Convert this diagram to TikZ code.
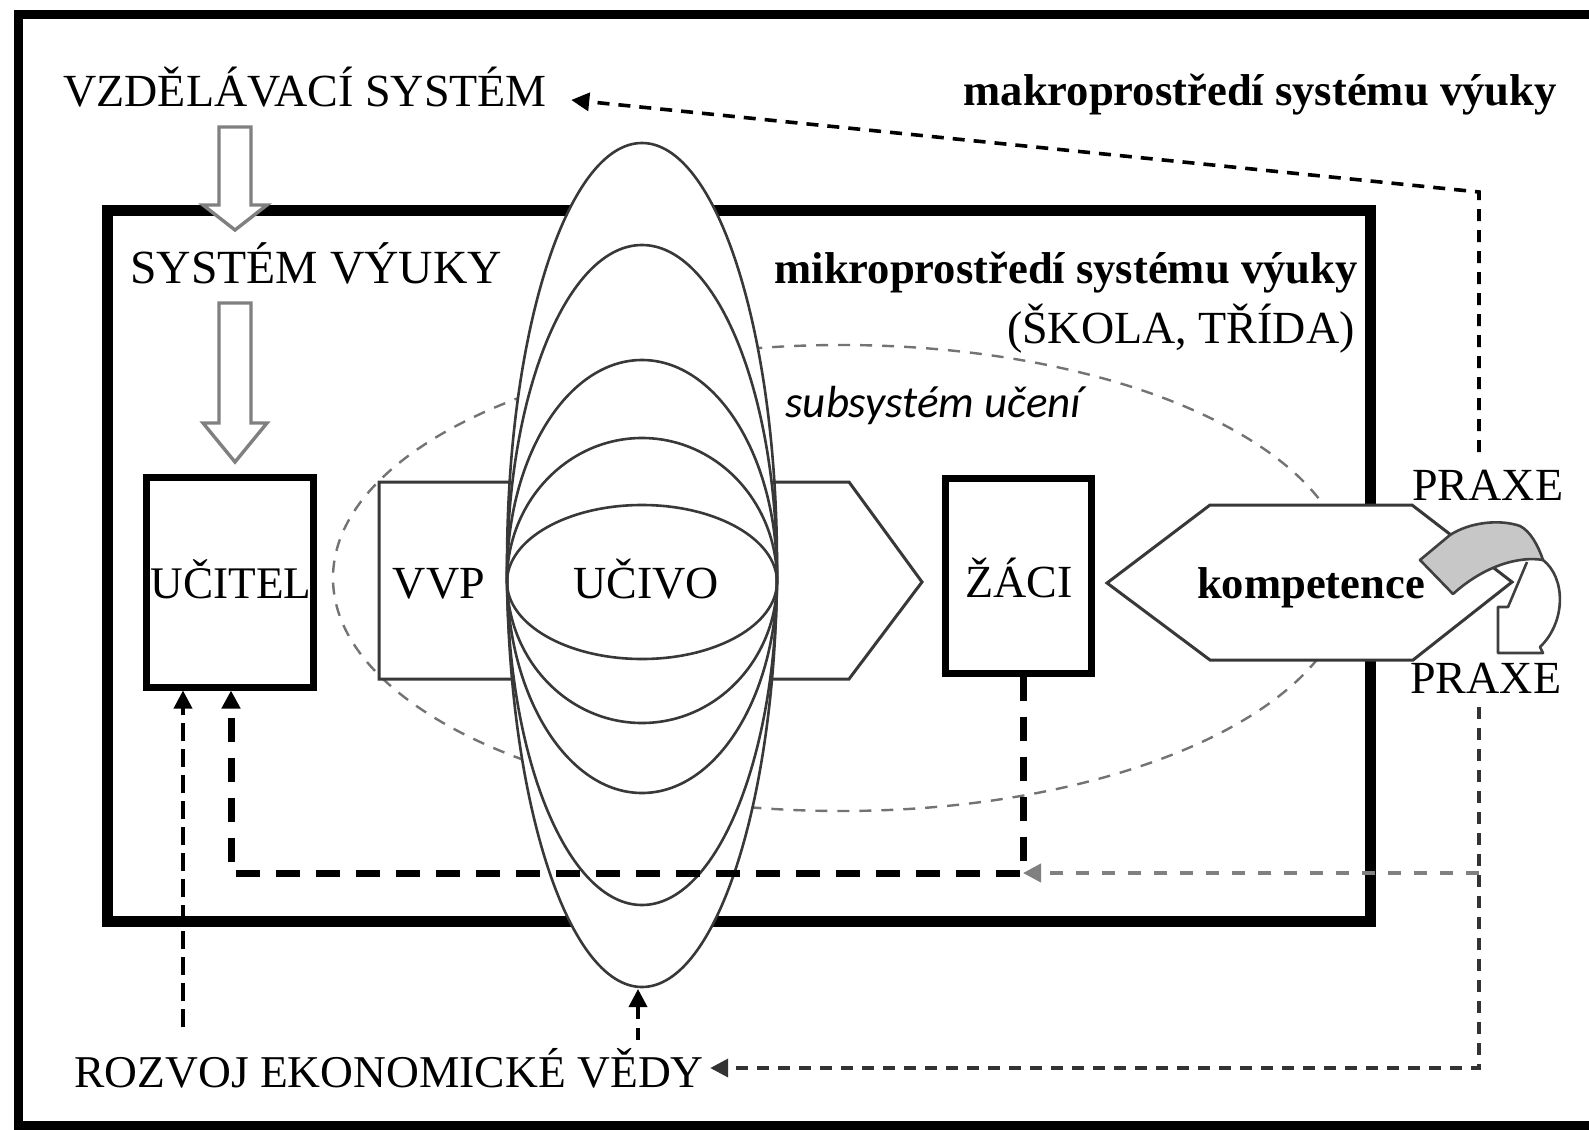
\documentclass[tikz,border=0pt]{standalone}
\usepackage{fontspec}
\setmainfont{Liberation Serif}
\newfontfamily\itfont{Carlito}
\usetikzlibrary{arrows.meta}
\begin{document}
\begin{tikzpicture}[x=0.5pt,y=-0.5pt,
  txt/.style={inner sep=0pt, font=\fontsize{23}{26}\selectfont},
  btxt/.style={inner sep=0pt, font=\fontsize{22.3}{26}\selectfont\bfseries},
  itxt/.style={inner sep=0pt, font=\fontsize{22.5}{26}\selectfont\itfont\itshape},
  outerframe/.style={line width=4.5pt},
  innerframe/.style={line width=5.5pt},
  box/.style={draw, line width=3.5pt, inner sep=0pt, fill=white},
  lens/.style={draw=black!78, line width=1.3pt},
  subsys/.style={draw=black!55, line width=1.2pt, dash pattern=on 6pt off 5pt},
  blockarrow/.style={draw=black!50, line width=1.7pt, fill=white, line join=miter},
  shape line/.style={draw=black!78, line width=1.5pt, fill=white, line join=miter},
  thindash/.style={line width=1.8pt, dash pattern=on 6pt off 4.5pt},
  longdash/.style={line width=1.8pt, dash pattern=on 9pt off 4pt},
  graydash/.style={draw=black!50, line width=2pt, dash pattern=on 6.5pt off 6.5pt},
  thickdash/.style={line width=3.5pt, dash pattern=on 12pt off 8pt},
  arr/.style={-{Triangle[length=9pt,width=9pt]}},
]
\useasboundingbox (0,0) rectangle (1589,1129);
\fill[white] (0,0) rectangle (1589,1129);

% frames
\draw[outerframe] (18,15) rectangle (1650,1125);
\draw[innerframe] (107,210) rectangle (1370,921);

% block arrows
\draw[blockarrow] (219,127) -- (251,127) -- (251,205) -- (267,205) -- (235,230) -- (203,205) -- (219,205) -- cycle;
\draw[blockarrow] (219,303) -- (251,303) -- (251,423) -- (267,423) -- (235,462) -- (203,423) -- (219,423) -- cycle;

% subsystem of learning (dashed ellipse)
\draw[subsys] (841,578) ellipse [x radius=508, y radius=233];

% VVP pentagon
\draw[shape line] (379,482) -- (849,482) -- (922,582) -- (849,679) -- (379,679) -- cycle;

% lens ellipses
\fill[white] (642,565) ellipse [x radius=135, y radius=422];
\draw[lens] (642,565) ellipse [x radius=135, y radius=422];
\draw[lens] (642,575) ellipse [x radius=135, y radius=330];
\draw[lens] (642,576.5) ellipse [x radius=135, y radius=216.5];
\draw[lens] (642,580.5) ellipse [x radius=135, y radius=142.5];
\draw[lens] (642,582) ellipse [x radius=135, y radius=77];

% boxes
\node[box, minimum width=83.5pt, minimum height=105pt] (ucitel) at (229.5,582) {};
\node[box, minimum width=73pt, minimum height=97.5pt] (zaci) at (1018,575.5) {};

% kompetence hexagon
\draw[shape line] (1107,583) -- (1210,505) -- (1412,505) -- (1512,582) -- (1413,660) -- (1210,660) -- cycle;

% curved arrow (PRAXE)
\draw[black!75, line width=1.3pt, fill=black!22, line join=round]
  (1420,560) -- (1450,535) .. controls (1470,522) and (1500,519) .. (1520,526)
  .. controls (1530,531) and (1538,545) .. (1543,560)
  .. controls (1520,556) and (1485,565) .. (1453,594) -- cycle;
\draw[black!75, line width=1.3pt, line join=round]
  (1543,560) .. controls (1566,578) and (1566,622) .. (1540,647) -- (1543,653) -- (1498,653)
  -- (1498,607) -- (1508,607) -- (1527,562);

% texts
\node[txt, anchor=base west] (vzd) at (63,107) {VZDĚLÁVACÍ SYSTÉM};
\node[btxt, anchor=base east] (makro) at (1557,105) {makroprostředí systému výuky};
\node[txt, font=\fontsize{23.8}{26}\selectfont, anchor=base west] (sysv) at (130,283) {SYSTÉM VÝUKY};
\node[btxt, anchor=base east] (mikro) at (1358,283) {mikroprostředí systému výuky};
\node[txt, anchor=base east] (skola) at (1355,343) {(ŠKOLA, TŘÍDA)};
\node[itxt, anchor=base west] (subs) at (785,417) {subsystém učení};
\node[txt, font=\fontsize{22.6}{26}\selectfont, anchor=base] (ucitelt) at (231,598) {UČITEL};
\node[txt, anchor=base] (vvp) at (439,598) {VVP};
\node[txt, anchor=base] (ucivo) at (646,598) {UČIVO};
\node[txt, anchor=base] (zacit) at (1019,597) {ŽÁCI};
\node[btxt, anchor=base] (komp) at (1311,598) {kompetence};
\node[txt, anchor=base west] (praxe1) at (1412,500) {PRAXE};
\node[txt, anchor=base west] (praxe2) at (1410,693) {PRAXE};
\node[txt, font=\fontsize{22.75}{26}\selectfont, anchor=base west] (rozvoj) at (74,1087) {ROZVOJ EKONOMICKÉ VĚDY};

% connector coordinates
\coordinate (rt1) at (1479,452);
\coordinate (rt2) at (1479,192);
\coordinate (rb1) at (1479,707);
\coordinate (rb2) at (1479,1068);
\coordinate (rm) at (1479,873);
\coordinate (j1) at (1023,873);
\coordinate (j2) at (231,873);
\coordinate (r1) at (183,1027);
\coordinate (r2) at (638,1040);
\coordinate (lensbot) at (638,989);

% connectors
\draw[thindash, arr] (rt1) -- (rt2) -- ([xshift=12pt,yshift=3.5pt]vzd.base east);
\draw[thindash, black!80, arr] (rb1) -- (rb2) -- ([xshift=3pt,yshift=9.5pt]rozvoj.base east);
\draw[graydash, arr] (rm) -- (j1);
\draw[thickdash, arr] ([xshift=2.5pt]zaci.south) -- (j1) -- (j2) -- (j2 |- ucitel.south);
\draw[longdash, arr] (r1) -- (r1 |- ucitel.south);
\draw[thindash, arr] (r2) -- (lensbot);
\end{tikzpicture}
\end{document}
